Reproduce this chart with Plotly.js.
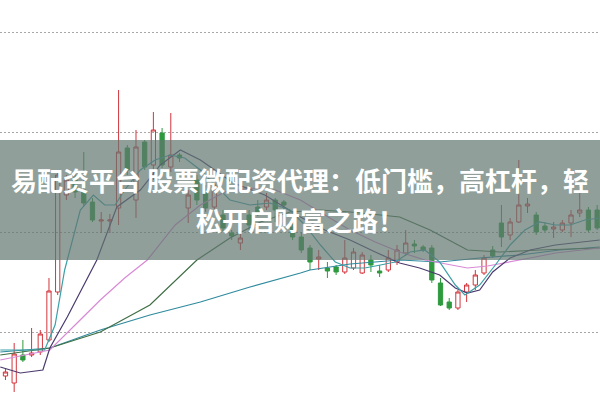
<!DOCTYPE html>
<html>
<head>
<meta charset="utf-8">
<script src="https://cdn.plot.ly/plotly-3.0.1.min.js"></script>
<style>html,body{margin:0;padding:0;background:#fff;}#chart{width:600px;height:400px;}</style>
</head>
<body>
<div id="chart"></div>
<script>
// ---- data ----
const idx = Array.from({length: 69}, (_, i) => i);
const openP  = [7.56,7.49,7.77,7.77,7.80,7.92,8.40,9.37,9.54,9.42,9.30,9.11,9.11,9.24,9.84,9.32,9.90,9.67,9.99,9.65,9.77,9.24,9.52,9.42,9.25,9.17,8.99,8.89,9.17,9.25,9.25,9.32,9.30,9.05,8.95,8.84,8.73,8.64,8.65,8.60,8.64,8.59,8.72,8.61,8.62,8.70,8.79,8.88,8.85,8.84,8.49,8.30,8.24,8.40,8.47,8.59,8.82,9.09,8.97,9.10,9.26,9.17,9.06,9.03,9.02,9.09,9.19,9.22,9.22];
const closeP = [7.60,7.78,7.72,7.79,7.98,8.41,9.57,9.52,9.40,9.29,9.12,9.12,9.12,9.80,9.62,9.85,9.65,10.02,9.67,9.77,9.74,9.37,9.32,9.24,9.42,9.04,8.96,8.94,9.07,9.19,9.32,9.22,9.27,8.95,8.82,8.70,8.75,8.61,8.60,8.74,8.80,8.77,8.67,8.59,8.74,8.82,8.89,8.86,8.82,8.52,8.27,8.24,8.40,8.47,8.57,8.74,8.76,8.95,9.10,9.27,9.28,9.00,9.02,9.05,9.09,9.17,9.22,9.02,9.04];
const highP  = [7.64,7.89,7.92,8.04,8.02,8.54,9.62,9.57,9.62,9.80,9.34,9.20,9.18,10.42,9.87,10.02,9.92,10.20,10.04,10.19,9.79,9.42,9.57,9.47,9.49,9.22,9.02,9.00,9.22,9.32,9.39,9.34,9.32,9.09,9.00,8.87,8.82,8.70,8.67,8.92,8.84,8.80,8.77,8.67,8.82,8.87,9.02,8.92,8.87,8.87,8.54,8.34,8.42,8.49,8.62,8.77,8.86,9.27,9.14,9.72,9.34,9.20,9.10,9.10,9.12,9.22,9.45,9.25,9.27];
const lowP   = [7.52,7.40,7.70,7.75,7.77,7.90,8.37,9.32,9.34,9.26,9.10,8.99,8.99,9.07,9.57,9.14,9.62,9.52,9.64,9.60,9.70,9.09,9.27,9.20,9.22,9.00,8.92,8.82,9.02,9.16,9.22,9.10,9.22,8.92,8.79,8.62,8.62,8.54,8.57,8.58,8.62,8.58,8.60,8.55,8.60,8.67,8.76,8.79,8.80,8.49,8.26,8.22,8.22,8.30,8.42,8.57,8.74,8.85,8.92,9.09,9.19,8.97,9.00,8.94,9.00,8.95,9.15,9.00,9.02];

// moving average lines (x in candle index, y in price)
const ma5X  = [-0.6,4.5,5.7,6.8,8.6,10.1,11.4,12.6,13.7,15.5,17.2,18.9,20.6,22.4,24.1,25.8,28.1,30.4,32.7,34.4,36.2,37.9,39.6,41.3,43.1,44.8,46.5,48.2,49.9,51.7,52.8,54.5,56.3,58.0,59.7,61.4,63.2,64.9,66.6,68.3];
const ma5Y  = [7.82,7.82,8.07,8.62,9.22,9.37,9.27,9.27,9.42,9.62,9.72,9.77,9.74,9.62,9.47,9.32,9.27,9.29,9.22,9.07,8.87,8.70,8.64,8.64,8.67,8.70,8.80,8.82,8.70,8.47,8.37,8.47,8.67,8.87,9.02,9.10,9.07,9.07,9.12,9.14];
const ma10X = [-0.6,1.7,4.3,5.1,7.1,10.5,12.8,15.5,17.8,20.1,22.4,26.2,29.8,33.9,36.7,39.6,42.5,45.3,47.6,49.9,51.7,53.1,54.5,56.0,58.0,60.3,63.2,66.0,68.3];
const ma10Y = [7.65,7.59,7.62,7.84,8.15,8.72,9.25,9.42,9.67,9.82,9.72,9.49,9.37,9.15,9.02,8.92,8.80,8.69,8.64,8.57,8.44,8.39,8.42,8.60,8.74,8.82,8.87,8.90,8.92];
const ma20X = [-0.6,5.1,8.0,10.9,13.7,16.3,19.5,22.4,25.2,28.1,31.0,33.9,36.7,39.6,42.5,45.3,48.2,51.1,53.1,55.4,57.4,60.3,63.2,66.0,68.3];
const ma20Y = [7.72,7.82,8.07,8.32,8.54,8.72,9.07,9.27,9.40,9.44,9.42,9.32,9.17,9.02,8.90,8.80,8.72,8.67,8.64,8.66,8.69,8.74,8.79,8.82,8.84];
const ma30X = [-0.6,5.1,10.9,16.6,22.0,25.8,29.3,32.7,36.2,39.6,43.1,45.3,48.8,53.1,56.8,61.4,68.3];
const ma30Y = [7.77,7.84,8.00,8.27,8.72,8.94,9.10,9.20,9.22,9.20,9.17,9.15,9.02,8.82,8.80,8.82,8.84];
const ma60X = [-0.6,5.1,10.9,16.6,22.4,28.1,33.9,35.0,39.6,45.3,49.9,54.5,59.1,63.7,68.3];
const ma60Y = [7.80,7.84,8.02,8.17,8.30,8.45,8.59,8.62,8.68,8.72,8.70,8.74,8.77,8.82,8.85];

const gridVals = [8, 9, 10, 11];
const bannerLine1 = '易配资平台 股票微配资代理：低门槛，高杠杆，轻';
const bannerLine2 = '松开启财富之路！';

// ---- traces ----
const traces = [
  {
    type: 'candlestick', x: idx, open: openP, high: highP, low: lowP, close: closeP,
    increasing: {line: {color: '#d2353c', width: 1}, fillcolor: 'rgba(255,255,255,0)'},
    decreasing: {line: {color: '#2e9a3e', width: 1}, fillcolor: '#2e9a3e'},
    whiskerwidth: 0, hoverinfo: 'skip'
  },
  {type: 'scatter', mode: 'lines', x: ma60X, y: ma60Y, line: {color: '#2f8a9e', width: 1.2}},
  {type: 'scatter', mode: 'lines', x: ma30X, y: ma30Y, line: {color: '#3f6e45', width: 1.2}},
  {type: 'scatter', mode: 'lines', x: ma20X, y: ma20Y, line: {color: '#d98ad6', width: 1.2}},
  {type: 'scatter', mode: 'lines', x: ma10X, y: ma10Y, line: {color: '#4a3a6e', width: 1.2}},
  {type: 'scatter', mode: 'lines', x: ma5X,  y: ma5Y,  line: {color: '#3aa0a6', width: 1.2}}
];

const layout = {
  width: 600, height: 400,
  margin: {l: 0, r: 0, t: 0, b: 0},
  paper_bgcolor: '#ffffff', plot_bgcolor: '#ffffff',
  showlegend: false,
  xaxis: {range: [-0.63, 68.33], showgrid: false, zeroline: false, showticklabels: false,
          showline: false, ticks: '', rangeslider: {visible: false}, fixedrange: true},
  yaxis: {range: [7.32, 11.32], tickvals: gridVals, showgrid: true, gridcolor: '#a8a8a8',
          griddash: '2px,2px', gridwidth: 1, zeroline: false, showticklabels: false,
          showline: false, ticks: '', fixedrange: true},
  shapes: [{
    type: 'rect', xref: 'paper', yref: 'paper', x0: 0, x1: 1, y0: 0.35, y1: 0.65,
    fillcolor: 'rgba(98,118,113,0.7)', line: {width: 0}, layer: 'above'
  }],
  annotations: [
    {text: bannerLine1, xref: 'paper', yref: 'paper', x: 0.5, y: 0.55, xanchor: 'center', yanchor: 'middle',
     showarrow: false, font: {family: '"Noto Sans CJK SC", "Noto Sans", sans-serif', size: 26, color: '#ffffff', weight: 'bold'}},
    {text: bannerLine2, xref: 'paper', yref: 'paper', x: 0.5, y: 0.4525, xanchor: 'center', yanchor: 'middle',
     showarrow: false, font: {family: '"Noto Sans CJK SC", "Noto Sans", sans-serif', size: 26, color: '#ffffff', weight: 'bold'}}
  ]
};

Plotly.newPlot('chart', traces, layout, {staticPlot: true, displayModeBar: false});
</script>
</body>
</html>
